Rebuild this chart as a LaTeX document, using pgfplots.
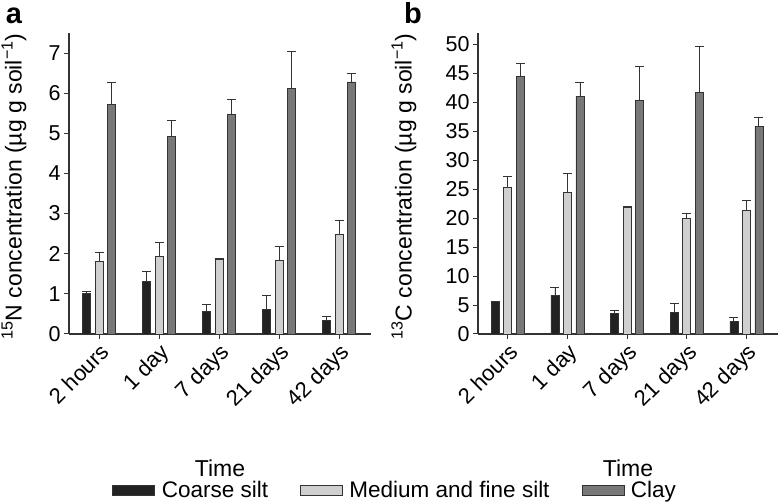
\documentclass[border=0pt]{standalone}
\usepackage{fontspec}
\setmainfont{Liberation Sans}
\usepackage{pgfplots}
\usepackage{pgfplotstable}
\pgfplotsset{compat=1.18}
\definecolor{cblack}{HTML}{222222}
\definecolor{clight}{HTML}{CFCFCF}
\definecolor{cdark}{HTML}{787878}
\definecolor{cline}{HTML}{333333}

\pgfplotstableread{
x  cs    cse   mf     mfe   cl    cle
0  1.00  0.05  1.81   0.22  5.72  0.56
1  1.31  0.26  1.93   0.35  4.92  0.39
2  0.57  0.16  1.87   0.01  5.48  0.36
3  0.61  0.34  1.83   0.35  6.12  0.93
4  0.34  0.09  2.47   0.37  6.28  0.21
}\dataA

\pgfplotstableread{
x  cs    cse   mf     mfe   cl    cle
0  5.65  0.00  25.35  1.85  44.5  2.2
1  6.66  1.40  24.5   3.3   41.1  2.3
2  3.52  0.63  21.9   0.1   40.4  5.9
3  3.70  1.58  19.9   1.0   41.7  7.9
4  2.20  0.62  21.3   1.8   35.85 1.6
}\dataB

\pgfplotsset{
  panel/.style={
    scale only axis, height=301pt,
    axis lines*=left,
    axis line style={cline, line width=1.3pt},
    xmin=-0.5, xmax=4.53, ymin=0,
    xtick={0,1,2,3,4},
    xticklabels={2 hours,1 day,7 days,21 days,42 days},
    x tick label style={rotate=45, anchor=north east, font=\fontsize{22}{22}\selectfont, inner sep=2pt},
    y tick label style={font=\fontsize{21.5}{21.5}\selectfont},
    tick style={cline, line width=1pt},
    major tick length=5pt,
    tick align=outside,
    /pgf/number format/assume math mode=true,
    ybar, bar width=8pt,
    xlabel={Time},
    ylabel style={font=\fontsize{23}{23}\selectfont, anchor=center},
    error bars/y dir=plus, error bars/y explicit,
    error bars/error bar style={draw=cline, line width=0.9pt},
    error bars/error mark options={rotate=90, draw=cline, mark size=4.5pt, line width=0.9pt},
    clip=false,
  },
  sblack/.style={fill=cblack, draw=cline, line width=0.8pt, bar shift=-12.5pt},
  slight/.style={fill=clight, draw=cline, line width=0.8pt, bar shift=0pt},
  sdark/.style={fill=cdark, draw=cline, line width=0.8pt, bar shift=12.5pt},
}

\begin{document}
\begin{tikzpicture}
\path[use as bounding box] (0pt,0pt) rectangle (781pt,502pt);

\begin{axis}[panel, width=302pt, at={(69pt,168pt)}, anchor=south west,
  ymax=7.5, ytick={0,1,2,3,4,5,6,7},
  ylabel={\textsuperscript{15}N concentration (µg g soil\textsuperscript{−1})},
  ylabel style={at={(axis description cs:-0.182,0.49)}},
  xlabel style={at={(axis description cs:0.5,-0.445)}, anchor=center, font=\fontsize{23}{23}\selectfont},
  legend columns=3,
  legend style={at={(axis description cs:1.08,-0.518)}, anchor=center, draw=none,
    font=\fontsize{22.5}{22.5}\selectfont},
  legend image code/.code={\draw[#1] (0pt,-5pt) rectangle (42pt,5pt); \path[draw=none, fill=none] (0pt,0pt) -- (47pt,0pt);},
]
\addplot[sblack] table[x=x, y=cs, y error=cse] {\dataA};
\addlegendentry{Coarse silt\hspace*{30pt}}
\addplot[slight] table[x=x, y=mf, y error=mfe] {\dataA};
\addlegendentry{Medium and fine silt\hspace*{30pt}}
\addplot[sdark] table[x=x, y=cl, y error=cle] {\dataA};
\addlegendentry{Clay}
\node[anchor=base, inner sep=0pt, font=\fontsize{29}{29}\selectfont\bfseries] at (axis description cs:-0.182,1.033) {a};
\end{axis}

\begin{axis}[panel, width=300pt, at={(478pt,168pt)}, anchor=south west,
  ymax=52, ytick={0,5,...,50},
  ylabel={\textsuperscript{13}C concentration (µg g soil\textsuperscript{−1})},
  ylabel style={at={(axis description cs:-0.247,0.49)}},
  xlabel style={at={(axis description cs:0.5,-0.445)}, anchor=center, font=\fontsize{23}{23}\selectfont},
]
\addplot[sblack] table[x=x, y=cs, y error=cse] {\dataB};
\addplot[slight] table[x=x, y=mf, y error=mfe] {\dataB};
\addplot[sdark] table[x=x, y=cl, y error=cle] {\dataB};
\node[anchor=base, inner sep=0pt, font=\fontsize{29}{29}\selectfont\bfseries] at (axis description cs:-0.217,1.033) {b};
\end{axis}
\end{tikzpicture}
\end{document}
